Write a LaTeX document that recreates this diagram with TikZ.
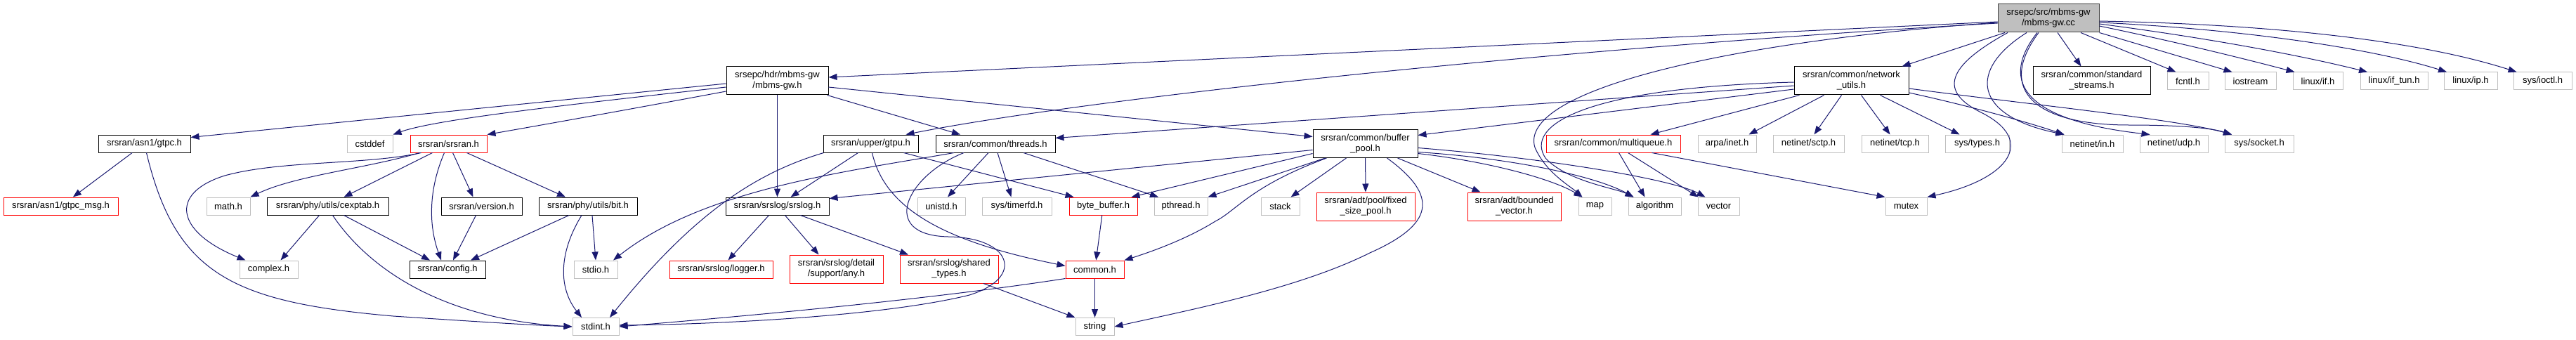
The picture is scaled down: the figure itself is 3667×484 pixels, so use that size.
\documentclass[tikz,border=0pt]{standalone}
\usepackage{fontspec}
\setmainfont{Liberation Sans}
\usepackage{tikz}
\usetikzlibrary{arrows.meta, positioning}
\definecolor{edgeblue}{HTML}{191970}
\definecolor{grey75}{HTML}{BFBFBF}

\begin{document}
\begin{tikzpicture}[x=1pt, y=-1pt,
  inc/.style={rectangle, line width=1pt, minimum height=25pt, inner xsep=3pt,
              inner ysep=2pt, align=center, font=\fontsize{13}{15}\selectfont},
  blk/.style={inc, draw=black},
  gry/.style={inc, draw=grey75},
  red/.style={inc, draw=red},
  rootbox/.style={inc, draw=black!75, fill=grey75},
  two/.style={minimum height=40pt},
  edge/.style={-{Triangle[length=12pt, width=9pt]}, draw=edgeblue, line width=1pt},
]
\useasboundingbox (0,0) rectangle (3667,484);

\node[rootbox, two, minimum width=144] (mbmscc) at (2916,26) {srsepc/src/mbms-gw\\/mbms-gw.cc};

\node[blk, two, minimum width=145] (mbmsh)      at (1106.5,115) {srsepc/hdr/mbms-gw\\/mbms-gw.h};
\node[blk, two, minimum width=163] (netutils)   at (2635.5,115) {srsran/common/network\\\_utils.h};
\node[blk, two, minimum width=167] (stdstreams) at (2977.5,115) {srsran/common/standard\\\_streams.h};
\node[gry, minimum width=59] (fcntl)    at (3114.5,115.5) {fcntl.h};
\node[gry, minimum width=73] (iostream) at (3203.5,115.5) {iostream};
\node[gry, minimum width=71] (linuxif)  at (3299.5,115.5) {linux/if.h};
\node[gry, minimum width=96] (iftun)    at (3408,115.5)   {linux/if\_tun.h};
\node[gry, minimum width=76] (linuxip)  at (3517,115.5)   {linux/ip.h};
\node[gry, minimum width=83] (ioctl)    at (3619.5,115.5) {sys/ioctl.h};

\node[blk, minimum width=131] (gtpc)     at (205.5,204.5)  {srsran/asn1/gtpc.h};
\node[gry, minimum width=65]  (cstddef)  at (526.5,204.5)  {cstddef};
\node[red, minimum width=109] (srsran)   at (638.5,204.5)  {srsran/srsran.h};
\node[blk, minimum width=135] (gtpu)     at (1239.5,204.5) {srsran/upper/gtpu.h};
\node[blk, minimum width=170] (threads)  at (1417,204.5)   {srsran/common/threads.h};
\node[blk, two, minimum width=149] (bufpool) at (1943.5,204.5) {srsran/common/buffer\\\_pool.h};
\node[red, minimum width=191] (mqueue)   at (2296.5,204.5) {srsran/common/multiqueue.h};
\node[gry, minimum width=83]  (arpa)     at (2458.5,204.5) {arpa/inet.h};
\node[gry, minimum width=101] (sctp)     at (2574.5,204.5) {netinet/sctp.h};
\node[gry, minimum width=95]  (tcp)      at (2697.5,204.5) {netinet/tcp.h};
\node[gry, minimum width=91]  (systypes) at (2814.5,204.5) {sys/types.h};
\node[gry, minimum width=87]  (netin)    at (2978.5,204.5) {netinet/in.h};
\node[gry, minimum width=97]  (netudp)   at (3094.5,204.5) {netinet/udp.h};
\node[gry, minimum width=98]  (socket)   at (3216,204.5)   {sys/socket.h};

\node[red, minimum width=163] (gtpcmsg)  at (86.5,293.5)   {srsran/asn1/gtpc\_msg.h};
\node[gry, minimum width=62]  (mathh)    at (325,293.5)    {math.h};
\node[blk, minimum width=173] (cexptab)  at (466.5,293.5)  {srsran/phy/utils/cexptab.h};
\node[blk, minimum width=115] (version)  at (685.5,293.5)  {srsran/version.h};
\node[blk, minimum width=140] (bith)     at (837,293.5)    {srsran/phy/utils/bit.h};
\node[blk, minimum width=147] (srslog)   at (1106.5,293.5) {srsran/srslog/srslog.h};
\node[gry, minimum width=68]  (unistd)   at (1340,293.5)   {unistd.h};
\node[gry, minimum width=99]  (timerfd)  at (1447.5,293.5) {sys/timerfd.h};
\node[red, minimum width=97]  (bytebuf)  at (1570.5,293.5) {byte\_buffer.h};
\node[gry, minimum width=76]  (pthread)  at (1681,293.5)   {pthread.h};
\node[gry, minimum width=55]  (stack)    at (1822.5,293.5) {stack};
\node[red, two, minimum width=140] (fixedpool) at (1944,294)   {srsran/adt/pool/fixed\\\_size\_pool.h};
\node[red, two, minimum width=133] (boundvec)  at (2155.5,294) {srsran/adt/bounded\\\_vector.h};
\node[gry, minimum width=47]  (maph)      at (2270.5,293.5) {map};
\node[gry, minimum width=75]  (algorithm) at (2355.5,293.5) {algorithm};
\node[gry, minimum width=59]  (vector)    at (2446.5,293.5) {vector};
\node[gry, minimum width=59]  (mutex)     at (2713.5,293.5) {mutex};

\node[gry, minimum width=83]  (complex)  at (382.5,383.5)  {complex.h};
\node[blk, minimum width=108] (config)   at (637,383.5)    {srsran/config.h};
\node[gry, minimum width=62]  (stdio)    at (848,383.5)    {stdio.h};
\node[red, minimum width=147] (logger)   at (1026.5,383.5) {srsran/srslog/logger.h};
\node[red, two, minimum width=133] (anyh)        at (1190.5,383) {srsran/srslog/detail\\/support/any.h};
\node[red, two, minimum width=140] (sharedtypes) at (1351,383)   {srsran/srslog/shared\\\_types.h};
\node[red, minimum width=83]  (common)   at (1558.5,383.5) {common.h};

\node[gry, minimum width=66]  (stdint)   at (848,465)      {stdint.h};
\node[gry, minimum width=55]  (string)   at (1558.5,465)   {string};

\draw[edge] ([yshift=-5]mbmscc.west) -- ([yshift=5]mbmsh.east);
\draw[edge] ([yshift=-7]mbmscc.west) .. controls (2200,70) and (1550,140) .. ([xshift=50]gtpu.north);
\draw[edge] ([yshift=-6]mbmscc.west) .. controls (2450,60) and (2160,130) .. (2185,210)
  .. controls (2200,245) and (2235,265) .. ([xshift=-18]maph.north);
\draw[edge] ([xshift=-62]mbmscc.south) -- ([xshift=72]netutils.north);
\draw[edge] ([xshift=-58]mbmscc.south) .. controls (2770,95) and (2760,130) .. (2820,160)
  .. controls (2900,200) and (2860,255) .. (mutex.north east);
\draw[edge] ([xshift=-31]mbmscc.south) .. controls (2800,100) and (2810,165) .. ([xshift=-40]netin.north);
\draw[edge] ([xshift=-16]mbmscc.south) .. controls (2850,110) and (2870,170) .. ([xshift=-34]netudp.north);
\draw[edge] ([xshift=-14]mbmscc.south) .. controls (2840,130) and (2900,178) .. (3030,178)
  .. controls (3110,178) and (3150,183) .. ([xshift=-39]socket.north);
\draw[edge] ([xshift=13]mbmscc.south) -- ([xshift=-15]stdstreams.north);
\draw[edge] ([xshift=46]mbmscc.south) -- ([xshift=-17]fcntl.north);
\draw[edge] (mbmscc.south east) -- ([xshift=-26]iostream.north);
\draw[edge] ([yshift=-11]mbmscc.east) .. controls (3100,60) and (3200,85) .. ([xshift=-33]linuxif.north);
\draw[edge] ([yshift=-8]mbmscc.east) .. controls (3150,55) and (3280,80) .. ([xshift=-38]iftun.north);
\draw[edge] ([yshift=-6]mbmscc.east) .. controls (3200,42) and (3380,70) .. ([xshift=-34]linuxip.north);
\draw[edge] ([yshift=-4]mbmscc.east) .. controls (3250,35) and (3450,60) .. ([xshift=-37]ioctl.north);

\draw[edge] ([yshift=-4]mbmsh.west) -- ([yshift=9]gtpc.east);
\draw[edge] ([yshift=-9]mbmsh.west) .. controls (800,150) and (620,170) .. (cstddef.north east);
\draw[edge] ([yshift=-15]mbmsh.west) .. controls (900,155) and (760,180) .. (srsran.north east);
\draw[edge] (mbmsh) -- (srslog);
\draw[edge] ([xshift=-2]mbmsh.south east) -- ([xshift=-50]threads.north);
\draw[edge] ([yshift=-9]mbmsh.east) -- ([yshift=10]bufpool.west);

\draw[edge] (gtpc) -- (gtpcmsg);
\draw[edge] ([xshift=3]gtpc.south) .. controls (250,390) and (330,430) .. (560,450)
  .. controls (680,458) and (760,463) .. (stdint.west);

\draw[edge] ([xshift=-39]srsran.south) .. controls (520,235) and (400,228) .. (320,250)
  .. controls (240,275) and (250,330) .. ([xshift=-33]complex.north);
\draw[edge] ([xshift=-41]srsran.south) .. controls (520,240) and (420,250) .. (mathh.north east);
\draw[edge] ([xshift=-23]srsran.south) -- ([xshift=23]cexptab.north);
\draw[edge] ([xshift=-6]srsran.south) .. controls (610,270) and (610,320) .. ([xshift=-9]config.north);
\draw[edge] ([xshift=6]srsran.south) -- ([xshift=-12]version.north);
\draw[edge] ([xshift=26]srsran.south) -- ([xshift=-32]bith.north);

\draw[edge] ([xshift=-12]cexptab.south) -- ([xshift=17]complex.north);
\draw[edge] ([xshift=23]cexptab.south) -- ([xshift=-25]config.north);
\draw[edge] ([xshift=7]cexptab.south) .. controls (530,390) and (640,455) .. (stdint.west);
\draw[edge] ([xshift=-8]version.south) -- ([xshift=8]config.north);
\draw[edge] ([xshift=-27]bith.south) -- ([xshift=33]config.north);
\draw[edge] ([xshift=6]bith.south) -- (stdio.north);
\draw[edge] ([xshift=-9]bith.south) .. controls (795,360) and (795,410) .. ([xshift=-20]stdint.north);

\draw[edge] ([xshift=-12]srslog.south) -- ([xshift=10]logger.north);
\draw[edge] ([xshift=11]srslog.south) -- ([xshift=-25]anyh.north);
\draw[edge] ([xshift=33]srslog.south) -- ([xshift=-58]sharedtypes.north);
\draw[edge] ([xshift=49]sharedtypes.south) -- (string.north west);

\draw[edge] ([xshift=-18]gtpu.south) -- ([xshift=19]srslog.north);
\draw[edge] ([xshift=-67]gtpu.south) .. controls (1080,245) and (990,300) .. ([xshift=20]stdint.north);
\draw[edge] ([xshift=47]gtpu.south) -- ([xshift=-42]bytebuf.north);
\draw[edge] ([xshift=2]gtpu.south) .. controls (1260,300) and (1350,345) .. ([yshift=5]common.west);

\draw[edge] ([xshift=-10]threads.south) -- ([xshift=9]unistd.north);
\draw[edge] ([xshift=3]threads.south) -- ([xshift=-8]timerfd.north);
\draw[edge] ([xshift=40]threads.south) -- ([xshift=-32]pthread.north);
\draw[edge] ([xshift=-59]threads.south) .. controls (1200,245) and (1000,270) .. ([xshift=25]stdio.north);
\draw[edge] ([xshift=-45]threads.south) .. controls (1290,250) and (1250,335) .. (1350,337)
  .. controls (1440,338) and (1460,395) .. (1380,420)
  .. controls (1250,452) and (1000,462) .. ([yshift=2]stdint.east);

\draw[edge] (bytebuf) -- (common);
\draw[edge] (common) -- (string);
\draw[edge] (common.south west) .. controls (1300,430) and (1000,455) .. (stdint.east);

\draw[edge] ([yshift=-9]bufpool.west) -- ([yshift=11]srslog.east);
\draw[edge] ([yshift=-14]bufpool.west) -- ([xshift=40]bytebuf.north);
\draw[edge] ([xshift=-57]bufpool.south) -- (pthread.north east);
\draw[edge] ([xshift=-55]bufpool.south) .. controls (1780,265) and (1760,300) .. (1730,315)
  .. controls (1690,340) and (1640,358) .. (common.north east);
\draw[edge] ([xshift=-27]bufpool.south) -- ([xshift=15]stack.north);
\draw[edge] (bufpool) -- (fixedpool);
\draw[edge] ([xshift=46]bufpool.south) -- ([xshift=-48]boundvec.north);
\draw[edge] ([xshift=31]bufpool.south) .. controls (2050,280) and (2040,320) .. (1950,360)
  .. controls (1850,410) and (1700,440) .. (string.east);
\draw[edge] ([yshift=-14]bufpool.east) .. controls (2120,230) and (2210,255) .. ([xshift=-18]maph.north);
\draw[edge] ([yshift=-12]bufpool.east) .. controls (2150,225) and (2270,250) .. ([xshift=-30]algorithm.north);
\draw[edge] ([yshift=-6]bufpool.east) .. controls (2200,225) and (2380,255) .. ([xshift=-19]vector.north);

\draw[edge] ([xshift=8]mqueue.south) -- ([xshift=-14]algorithm.north);
\draw[edge] ([xshift=21]mqueue.south) -- ([xshift=-29]vector.north);
\draw[edge] ([xshift=55]mqueue.south) -- (mutex.north west);

\draw[edge] ([yshift=-7]netutils.west) -- ([yshift=8]threads.east);
\draw[edge] ([yshift=-12]netutils.west) -- ([yshift=12]bufpool.east);
\draw[edge] ([yshift=-2]netutils.west) .. controls (2250,125) and (2170,180) .. (2200,225)
  .. controls (2230,258) and (2300,268) .. ([xshift=-30]algorithm.north);
\draw[edge] ([xshift=-74]netutils.south) -- ([xshift=53]mqueue.north);
\draw[edge] ([xshift=-39]netutils.south) -- ([xshift=31]arpa.north);
\draw[edge] ([xshift=-14]netutils.south) -- ([xshift=8]sctp.north);
\draw[edge] ([xshift=14]netutils.south) -- ([xshift=-7]tcp.north);
\draw[edge] ([xshift=41]netutils.south) -- ([xshift=-25]systypes.north);
\draw[edge] ([yshift=-17]netutils.east) .. controls (2800,150) and (2880,172) .. ([xshift=-40]netin.north);
\draw[edge] ([yshift=-11]netutils.east) .. controls (2900,150) and (3100,170) .. ([xshift=-39]socket.north);
\end{tikzpicture}
\end{document}
